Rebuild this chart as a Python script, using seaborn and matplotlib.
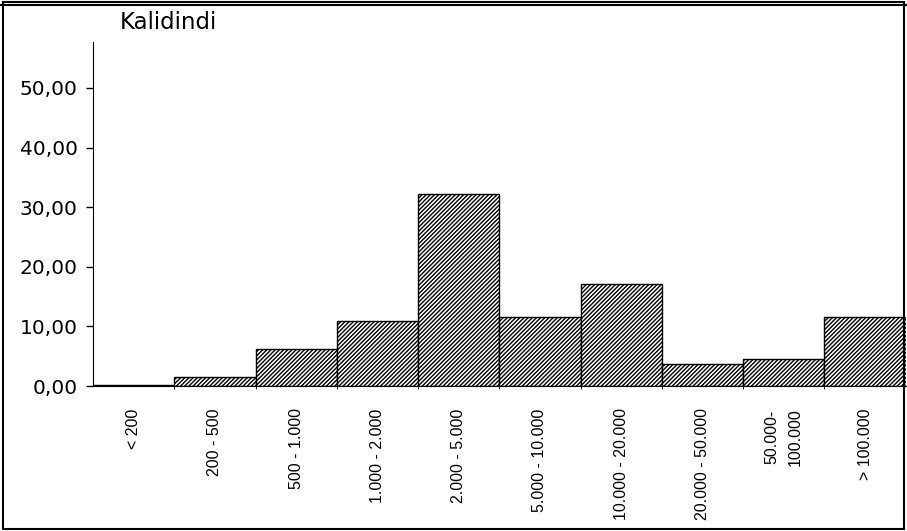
import pandas as pd
import numpy as np
import matplotlib.pyplot as plt
import seaborn as sns
from matplotlib.lines import Line2D
from matplotlib.patches import Rectangle

# size classes and share of cases (%)
klassen = ['< 200', '200 - 500', '500 - 1.000', '1.000 - 2.000', '2.000 - 5.000',
           '5.000 - 10.000', '10.000 - 20.000', '20.000 - 50.000', '50.000-\n100.000', '> 100.000']
anteil = [0.2, 1.5, 6.2, 10.9, 32.2, 11.5, 17.1, 3.7, 4.6, 11.5]
y_ticks = [0, 10, 20, 30, 40, 50]

df = pd.DataFrame({'Klasse': klassen, 'Anteil': anteil})

sns.set_style('white')
plt.rcParams['font.family'] = ['DejaVu Sans']
plt.rcParams['text.color'] = 'black'
plt.rcParams['xtick.color'] = 'black'
plt.rcParams['ytick.color'] = 'black'
plt.rcParams['hatch.linewidth'] = 1.0

fig = plt.figure(figsize=(9.07, 5.31), dpi=100)
ax = fig.add_axes([0.1025, 0.273, 0.896, 0.648])

sns.barplot(data=df, x='Klasse', y='Anteil', color='white', width=1.0,
            edgecolor='black', linewidth=1.0, ax=ax)
for p in ax.patches:
    p.set_hatch('////////')

ax.set_xlim(-0.5, len(klassen) - 0.5)
ax.set_ylim(0, 57.7)
ax.set_yticks(y_ticks)
ax.set_yticklabels([f'{v:.2f}'.replace('.', ',') for v in y_ticks], fontsize=14.5)
ax.tick_params(axis='y', direction='out', length=5, width=1, pad=6, left=True)

ax.set_xticks(range(len(klassen)))
ax.set_xticklabels(klassen, rotation=90, ha='center', va='top', fontsize=11.5,
                   family=['Liberation Sans', 'DejaVu Sans'], linespacing=1.7)
ax.tick_params(axis='x', length=0, pad=16)
ax.set_xticks(np.arange(0.5, len(klassen) - 0.5, 1), minor=True)
ax.tick_params(axis='x', which='minor', length=4, direction='inout', bottom=True)

ax.set_xlabel('')
ax.set_ylabel('')
for s in ['top', 'right']:
    ax.spines[s].set_visible(False)
ax.spines['left'].set_color('black')
ax.spines['bottom'].set_color('black')

fig.text(0.132, 0.958, 'Kalidindi', fontsize=16.5, ha='left', va='center')

# frame round the whole chart
fig.patches.append(Rectangle((0.003, 0.004), 0.994, 0.992, transform=fig.transFigure,
                             fill=False, edgecolor='black', linewidth=1.5))
fig.lines.append(Line2D([0, 1], [0.99, 0.99], transform=fig.transFigure, color='black', linewidth=1.5))

fig.savefig('out.png', dpi=100, facecolor='white')
